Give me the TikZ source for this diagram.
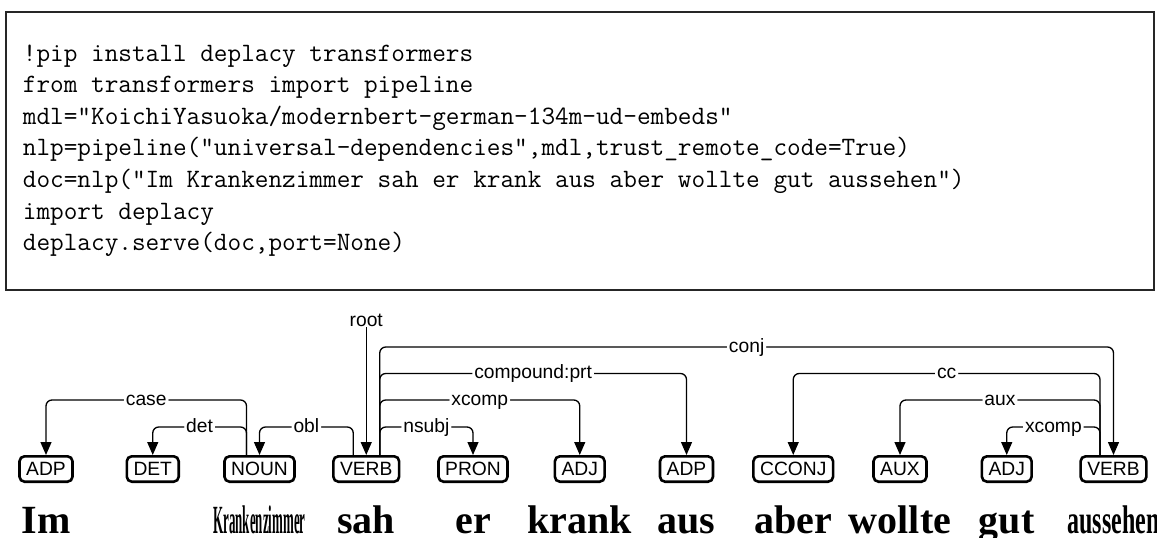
\documentclass[tikz,border=0pt]{standalone}
\usepackage{fontspec}
\setmainfont{Liberation Serif}
\newfontfamily\labfontfam{Liberation Sans}
\usetikzlibrary{arrows.meta}
\newcommand\posfont{\labfontfam\fontsize{19.25}{20}\selectfont}
\newcommand\labfont{\labfontfam\fontsize{19.25}{20}\selectfont}
\newcommand\wordfont{\bfseries\fontsize{40}{44}\selectfont}
\newcommand\codefont{\ttfamily\fontsize{26.5}{30}\selectfont}
\tikzset{
  posbox/.style={draw, line width=2.6pt, rounded corners=5pt, font=\posfont,
    text height=13.8pt, text depth=0pt, inner xsep=6.7pt, inner ysep=3pt, minimum height=25.4pt},
  word/.style={font=\wordfont, anchor=base, inner sep=0pt},
  arc/.style={line width=1.3pt, rounded corners=6pt, -{Triangle[width=11pt,length=13pt]}},
  lab/.style={fill=white, font=\labfont, text height=10pt, text depth=0pt, inner xsep=2pt, inner ysep=1pt},
  codeline/.style={anchor=base west, inner sep=0pt, font=\codefont},
  codebox/.style={draw=black!85, line width=1.2pt}
}
\begin{document}
\begin{tikzpicture}[x=1pt,y=-1pt]
\useasboundingbox (0,0) rectangle (1157,538);
% code cell
\draw[codebox] (6,12) rectangle (1154,290);
\node[codeline] (c1) at (22.7,61) {!pip install deplacy transformers};
\node[codeline] (c2) at (22.7,92.6) {from transformers import pipeline};
\node[codeline] (c3) at (22.7,124.2) {mdl="KoichiYasuoka/modernbert-german-134m-ud-embeds"};
\node[codeline] (c4) at (22.7,155.8) {nlp=pipeline("universal-dependencies",mdl,trust\_remote\_code=True)};
\node[codeline] (c5) at (22.7,187.4) {doc=nlp("Im Krankenzimmer sah er krank aus aber wollte gut aussehen")};
\node[codeline] (c6) at (22.7,219) {import deplacy};
\node[codeline] (c7) at (22.7,250.6) {deplacy.serve(doc,port=None)};
% POS boxes
\node[posbox] (p1) at (46,469) {ADP};
\node[posbox] (p2) at (152.75,469) {DET};
\node[posbox] (p3) at (259.5,469) {NOUN};
\node[posbox] (p4) at (366.25,469) {VERB};
\node[posbox] (p5) at (473,469) {PRON};
\node[posbox] (p6) at (579.75,469) {ADJ};
\node[posbox] (p7) at (686.5,469) {ADP};
\node[posbox] (p8) at (793.25,469) {CCONJ};
\node[posbox] (p9) at (900,469) {AUX};
\node[posbox] (p10) at (1006.75,469) {ADJ};
\node[posbox] (p11) at (1113.5,469) {VERB};
% words
\node[word] (w1) at (46,533) {Im};
\node[word] (w2) at (152.75,533) {};
\node[word] (w3) at (259.5,533) {\resizebox{92pt}{\height}{Krankenzimmer}};
\node[word] (w4) at (366.25,533) {sah};
\node[word] (w5) at (473,533) {er};
\node[word] (w6) at (579.75,533) {krank};
\node[word] (w7) at (686.5,533) {aus};
\node[word] (w8) at (793.25,533) {aber};
\node[word] (w9) at (900,533) {wollte};
\node[word] (w10) at (1006.75,533) {gut};
\node[word] (w11) at (1113.5,533) {\resizebox{92pt}{\height}{aussehen}};
% levels
\coordinate (L1) at (0,427);
\coordinate (L2) at (0,400);
\coordinate (L3) at (0,373.5);
\coordinate (L4) at (0,347);
% arc start points
\coordinate (s3l) at ([xshift=-13pt]p3.north);
\coordinate (s4l) at ([xshift=-13pt]p4.north);
\coordinate (s4r) at ([xshift=13.5pt]p4.north);
\coordinate (s11l) at ([xshift=-13.5pt]p11.north);
% root
\node[lab, anchor=base] (rootlab) at (366.25,326) {root};
\draw[arc] (rootlab.south) -- (p4.north);
% arcs
\draw[arc] (s3l) -- (s3l |- L2) -- node[lab]{case} (p1.north |- L2) -- (p1.north);
\draw[arc] (s3l) -- (s3l |- L1) -- node[lab]{det} (p2.north |- L1) -- (p2.north);
\draw[arc] (s4l) -- (s4l |- L1) -- node[lab]{obl} (p3.north |- L1) -- (p3.north);
\draw[arc] (s4r) -- (s4r |- L1) -- node[lab]{nsubj} (p5.north |- L1) -- (p5.north);
\draw[arc] (s4r) -- (s4r |- L2) -- node[lab]{xcomp} (p6.north |- L2) -- (p6.north);
\draw[arc] (s4r) -- (s4r |- L3) -- node[lab]{compound:prt} (p7.north |- L3) -- (p7.north);
\draw[arc] (s4r) -- (s4r |- L4) -- node[lab]{conj} (p11.north |- L4) -- (p11.north);
\draw[arc] (s11l) -- (s11l |- L3) -- node[lab]{cc} (p8.north |- L3) -- (p8.north);
\draw[arc] (s11l) -- (s11l |- L2) -- node[lab]{aux} (p9.north |- L2) -- (p9.north);
\draw[arc] (s11l) -- (s11l |- L1) -- node[lab]{xcomp} (p10.north |- L1) -- (p10.north);
\end{tikzpicture}
\end{document}
